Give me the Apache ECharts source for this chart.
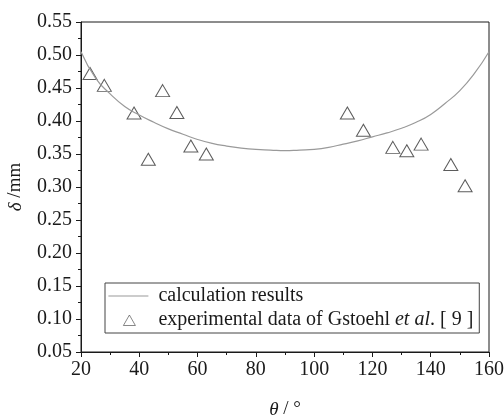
<!DOCTYPE html>
<html>
<head>
<meta charset="utf-8">
<script src="https://cdn.jsdelivr.net/npm/echarts@6/dist/echarts.min.js"></script>
<style>
  html, body { margin: 0; padding: 0; background: #fff; }
  #chart { width: 504px; height: 416px; }
</style>
</head>
<body>
<div id="chart"></div>
<script>
// calculated curve
var thetaCalc = [20, 25, 30, 35, 40, 45, 50, 55, 60, 65, 70, 75, 80, 85, 90,
                 95, 100, 105, 110, 115, 120, 125, 130, 135, 140, 145, 150, 155, 160];
var deltaCalc = [0.505, 0.465, 0.441, 0.422, 0.409, 0.398, 0.388, 0.380, 0.372, 0.366, 0.362, 0.359, 0.357, 0.356, 0.355,
                 0.356, 0.357, 0.360, 0.365, 0.370, 0.376, 0.382, 0.389, 0.398, 0.410, 0.427, 0.446, 0.472, 0.505];

// experimental points (Gstoehl et al.)
var thetaExp = [23.1, 28.0, 38.2, 43.1, 48.0, 52.9, 57.7, 63.0, 111.4, 116.9, 127.0, 131.8, 136.7, 146.9, 151.8];
var deltaExp = [0.472, 0.454, 0.412, 0.342, 0.446, 0.413, 0.362, 0.350, 0.412, 0.386, 0.360, 0.355, 0.365, 0.334, 0.302];

var serif = '"Liberation Serif", "DejaVu Serif", serif';
var ink = '#1a1a1a';

function pairs(xs, ys) {
    var out = [];
    for (var i = 0; i < xs.length; i++) out.push([xs[i], ys[i]]);
    return out;
}

var myChart = echarts.init(document.getElementById('chart'));
var option = {
    animation: false,
    backgroundColor: '#fff',
    grid: {
        left: 81,
        right: 15,
        top: 22,
        bottom: 64,
        outerBoundsMode: 'none',
        show: true,
        borderColor: ink,
        borderWidth: 1
    },
    legend: {
        orient: 'vertical',
        left: 105,
        top: 283,
        borderColor: '#444',
        borderWidth: 1,
        padding: [3, 6, 3, 3],
        itemGap: 4,
        itemWidth: 45,
        itemHeight: 12,
        data: [
            // short grey line, blank space on the right before the text
            {name: 'calc', icon: 'path://M0,0 M45,12 M0,5.5 L40,5.5 L40,6.6 L0,6.6 Z'},
            // small open triangle centred over the line sample
            {name: 'exp', icon: 'path://M0,0 M45,12 M15,11.5 L21,1 L27,11.5 Z',
             itemStyle: {borderWidth: 0.8, borderColor: '#444'}}
        ],
        formatter: function (name) {
            if (name === 'calc') return 'calculation results';
            return 'experimental data of Gstoehl {it|et al}. [ 9 ]';
        },
        textStyle: {
            fontFamily: serif,
            fontSize: 20,
            color: ink,
            rich: {
                it: {fontFamily: serif, fontSize: 20, fontStyle: 'italic', color: ink}
            }
        }
    },
    xAxis: {
        type: 'value',
        min: 20,
        max: 160,
        interval: 20,
        name: '{i|θ} / °',
        nameLocation: 'middle',
        nameGap: 48,
        nameTextStyle: {
            fontFamily: serif, fontSize: 19, color: ink,
            rich: {i: {fontFamily: serif, fontSize: 19, fontStyle: 'italic', color: ink}}
        },
        splitLine: {show: false},
        axisLine: {lineStyle: {color: ink, width: 1}},
        axisTick: {show: true, length: 5, lineStyle: {color: ink}},
        minorTick: {show: true, splitNumber: 2, length: 3, lineStyle: {color: ink}},
        axisLabel: {fontFamily: serif, fontSize: 20, color: ink, margin: 8}
    },
    yAxis: {
        type: 'value',
        min: 0.05,
        max: 0.55,
        interval: 0.05,
        name: '{i|δ} /mm',
        nameLocation: 'middle',
        nameGap: 56,
        nameRotate: 90,
        nameTextStyle: {
            fontFamily: serif, fontSize: 19, color: ink,
            rich: {i: {fontFamily: serif, fontSize: 19, fontStyle: 'italic', color: ink}}
        },
        splitLine: {show: false},
        axisLine: {show: true, lineStyle: {color: ink, width: 1}},
        axisTick: {show: true, length: 5, lineStyle: {color: ink}},
        minorTick: {show: true, splitNumber: 2, length: 3, lineStyle: {color: ink}},
        axisLabel: {
            fontFamily: serif,
            fontSize: 20,
            color: ink,
            margin: 9,
            formatter: function (v) { return v.toFixed(2); }
        }
    },
    series: [
        {
            name: 'calc',
            type: 'line',
            symbol: 'none',
            smooth: true,
            lineStyle: {color: '#9a9a9a', width: 1.2},
            itemStyle: {color: '#9a9a9a'},
            data: pairs(thetaCalc, deltaCalc)
        },
        {
            name: 'exp',
            type: 'scatter',
            symbol: 'triangle',
            symbolSize: [14, 12],
            itemStyle: {color: '#fff', borderColor: '#333', borderWidth: 1},
            data: pairs(thetaExp, deltaExp)
        }
    ]
};
myChart.setOption(option);
</script>
</body>
</html>
